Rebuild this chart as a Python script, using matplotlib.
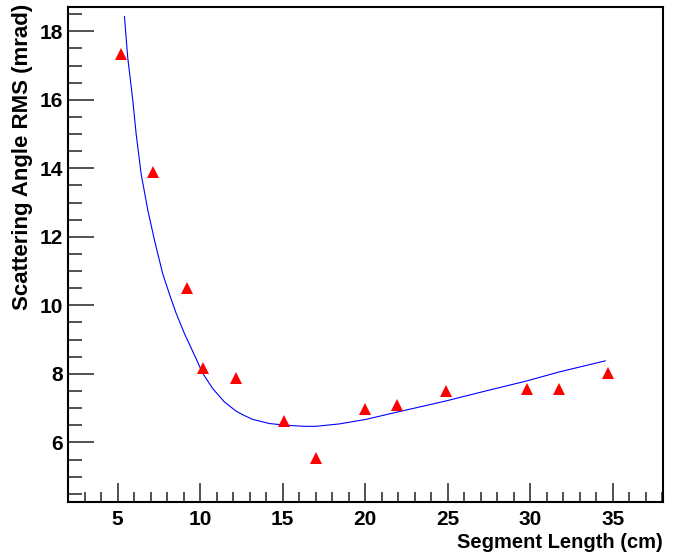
import matplotlib
matplotlib.use("Agg")
import matplotlib.pyplot as plt
from matplotlib.ticker import MultipleLocator

seg_length = [5.24, 7.18, 9.20, 10.17, 12.15, 15.06, 17.04, 19.99, 21.95, 24.88, 29.83, 31.77, 34.74]
rms_angle = [17.34, 13.90, 10.52, 8.16, 7.88, 6.62, 5.55, 6.97, 7.10, 7.49, 7.55, 7.55, 8.02]

fit_x = [5.42, 5.62, 5.93, 6.13, 6.43, 6.84, 7.24, 7.74, 8.20, 8.56, 9.06, 9.67, 10.17, 10.77,
         11.48, 12.19, 12.70, 13.20, 14.21, 15.22, 16.30, 17.04, 18.45, 20.03, 21.99, 24.90, 27.30,
         29.76, 31.79, 34.55]
fit_y = [18.43, 17.23, 15.97, 15.00, 13.84, 12.77, 11.90, 10.92, 10.25, 9.76, 9.17, 8.54, 8.01, 7.57,
         7.18, 6.91, 6.78, 6.67, 6.55, 6.50, 6.47, 6.47, 6.54, 6.67, 6.89, 7.21, 7.50,
         7.79, 8.06, 8.38]

plt.rcParams['font.family'] = ['Liberation Sans', 'DejaVu Sans']
plt.rcParams['font.weight'] = 'bold'

W, H = 681, 554
fig = plt.figure(figsize=(W / 100, H / 100), dpi=100)
ax = fig.add_axes([68 / W, 52 / H, (663 - 68) / W, (502 - 7) / H])

ax.plot(fit_x, fit_y, color='#0000ff', lw=0.8, zorder=2)
ax.plot(seg_length, rms_angle, linestyle='none', marker='^', ms=8, color='#ff0000',
        markeredgewidth=0, zorder=3)

ax.set_xlim(2.0, 38.05)
ax.set_ylim(4.26, 18.71)

ax.xaxis.set_major_locator(MultipleLocator(5))
ax.xaxis.set_minor_locator(MultipleLocator(1))
ax.set_yticks([6, 8, 10, 12, 14, 16, 18])
ax.yaxis.set_minor_locator(MultipleLocator(0.5))

ax.tick_params(which='both', direction='in', top=False, right=False, width=1.2, color='#333333')
ax.tick_params(which='major', axis='x', length=14, labelsize=15, pad=6)
ax.tick_params(which='minor', axis='x', length=7)
ax.tick_params(which='major', axis='y', length=19, labelsize=15, pad=3.5)
ax.tick_params(which='minor', axis='y', length=10)
for lab in ax.get_xticklabels() + ax.get_yticklabels():
    lab.set_fontweight('bold')

for s in ax.spines.values():
    s.set_linewidth(1.5)
    s.set_color('black')

fig.text(663 / W, 2 / H, 'Segment Length (cm)', fontsize=14.5, fontweight='bold',
         ha='right', va='bottom')
fig.text(23 / W, (H - 4) / H, 'Scattering Angle RMS (mrad)', fontsize=16, fontweight='bold',
         rotation=90, ha='center', va='top')

fig.savefig('out.png', dpi=100)
